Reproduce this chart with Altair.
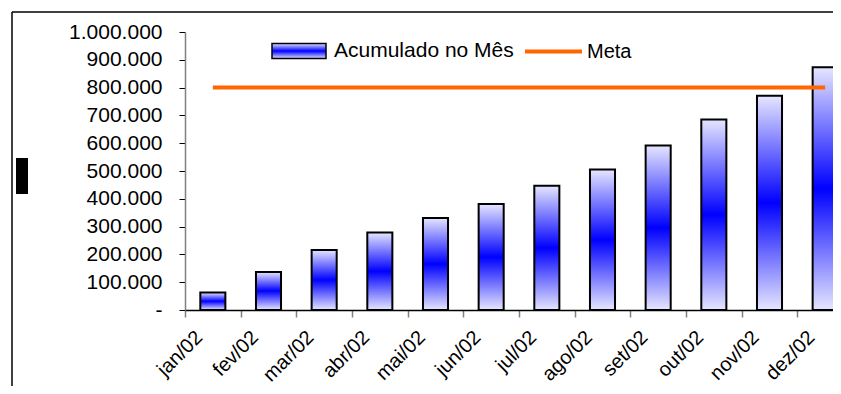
import altair as alt
import pandas as pd

meses = ["jan/02", "fev/02", "mar/02", "abr/02", "mai/02", "jun/02",
         "jul/02", "ago/02", "set/02", "out/02", "nov/02", "dez/02"]
acumulado = [63000, 137000, 216000, 279000, 331000, 381000,
             447000, 505000, 592000, 685000, 771000, 873000]
meta = [800000, 800000, 800000, 800000, 800000, 800000,
        800000, 800000, 800000, 800000, 800000, 800000]
y_ticks = [0, 100000, 200000, 300000, 400000, 500000,
           600000, 700000, 800000, 900000, 1000000]
serie_barras = "Acumulado no Mês"
serie_linha = "Meta"

df = pd.DataFrame({
    "mes": meses,
    "acumulado": acumulado,
    "meta": meta,
    "serie_bar": [serie_barras] * len(meses),
    "serie_line": [serie_linha] * len(meses),
})

FONT = "Liberation Sans"

grad_expr = ("{gradient: 'linear', x1: 0, y1: 0, x2: 0, y2: 1, stops: ["
             "{offset: 0, color: '#E6E6FF'}, {offset: 0.5, color: '#0000FF'}, "
             "{offset: 1, color: '#E6E6FF'}]}")

x_axis = alt.Axis(title=None, labelAngle=-45, labelAlign="right", labelBaseline="middle",
                  labelFontSize=20, labelPadding=17, labelOffset=-14, labelColor="#000",
                  labelOverlap=False, tickBand="extent", tickSize=7, tickColor="#808080",
                  tickWidth=1.5, domainColor="#000", domainWidth=1.5, grid=False)
x_scale = alt.Scale(range=[0, 668], paddingInner=0, paddingOuter=0)

y_scale = alt.Scale(domain=[0, 1000000], nice=False)
y_axis = alt.Axis(title=None, values=y_ticks, labelFontSize=21, labelPadding=17,
                  labelColor="#000", labelOverlap=False, tickSize=6, tickColor="#000",
                  domainColor="#808080", domainWidth=1.5, grid=False,
                  labelExpr="datum.value == 0 ? '-' : replace(replace(format(datum.value, ','), ',', '.'), ',', '.')")

bars = alt.Chart(df).mark_bar(
    width=alt.RelativeBandSize(0.45), stroke="#000", strokeWidth=2
).encode(
    x=alt.X("mes:N", sort=meses, scale=x_scale, axis=x_axis),
    y=alt.Y("acumulado:Q", scale=y_scale, axis=y_axis),
    fill=alt.Fill("serie_bar:N",
                  scale=alt.Scale(domain=[serie_barras], range=[alt.ExprRef(expr=grad_expr)]),
                  legend=alt.Legend(orient="none", legendX=86, legendY=-9, title=None,
                                    symbolType="M-1,-0.28H1V0.28H-1Z", symbolSize=2916,
                                    symbolStrokeColor="#000", symbolStrokeWidth=1.5,
                                    symbolOpacity=1, labelFontSize=21, labelOffset=7,
                                    labelLimit=400, labelColor="#000", padding=0)),
)

line = alt.Chart(df).mark_line(strokeWidth=4).encode(
    x=alt.X("mes:N", sort=meses, scale=x_scale, axis=x_axis),
    y=alt.Y("meta:Q", scale=y_scale, axis=y_axis),
    stroke=alt.Stroke("serie_line:N",
                      scale=alt.Scale(domain=[serie_linha], range=["#FF6600"]),
                      legend=alt.Legend(orient="none", legendX=338, legendY=-11, title=None,
                                        symbolType="M-1,0H1", symbolSize=3249,
                                        symbolStrokeWidth=4, labelFontSize=20, labelOffset=3,
                                        labelLimit=400, labelColor="#000", padding=0)),
)

deco = pd.DataFrame({"k": [1]})
border_left = alt.Chart(deco).mark_rule(color="#000", strokeWidth=1.5).encode(
    x=alt.value(-173), y=alt.value(-20), y2=alt.value(400))
border_top = alt.Chart(deco).mark_rule(color="#000", strokeWidth=1.5).encode(
    x=alt.value(-173), x2=alt.value(700), y=alt.value(-20))
black_box = alt.Chart(deco).mark_rect(color="#000").encode(
    x=alt.value(-169), x2=alt.value(-157), y=alt.value(126), y2=alt.value(162))

chart = alt.layer(bars, line, border_left, border_top, black_box).resolve_scale(
    fill="independent", stroke="independent"
).properties(
    width=648, height=278,
    autosize=alt.AutoSizeParams(type="none"),
    padding={"left": 177, "top": 24, "right": 0, "bottom": 76},
).configure(font=FONT).configure_view(strokeWidth=0)

chart.save("out.html", embed_options={"renderer": "svg", "actions": False})
